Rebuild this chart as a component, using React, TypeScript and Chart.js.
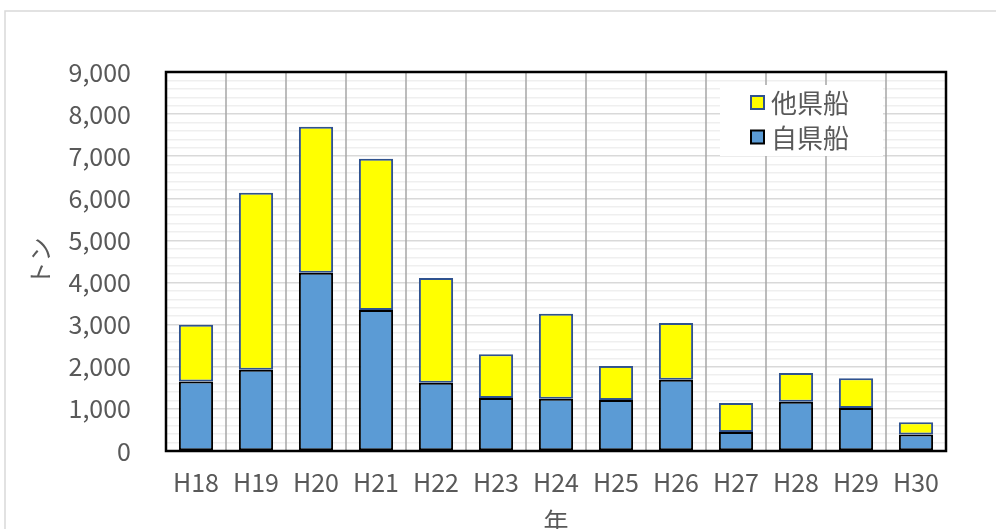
import React, { useEffect, useRef } from "react";
import { Chart, registerables } from "chart.js";

Chart.register(...registerables);

const categories = ["H18", "H19", "H20", "H21", "H22", "H23", "H24", "H25", "H26", "H27", "H28", "H29", "H30"];
const ownPrefShips = [1650, 1930, 4230, 3350, 1620, 1260, 1240, 1210, 1690, 450, 1170, 1020, 390];
const otherPrefShips = [1350, 4200, 3470, 3590, 2490, 1040, 2020, 810, 1350, 690, 680, 710, 290];
const seriesNames = ["自県船", "他県船"];
const yTitle = "トン";
const xTitle = "年";

const FONT = '"Noto Sans CJK JP", "Noto Sans", sans-serif';
const TEXT = "#595959";
const BLUE = "#5b9bd5";
const YELLOW = "#ffff00";
const BLUE_BORDER = "#000000";
const YELLOW_BORDER = "#2f528f";

export default function App() {
  const ref = useRef<HTMLCanvasElement | null>(null);

  useEffect(() => {
    document.body.style.margin = "0";
    document.body.style.overflow = "hidden";
    const canvas = ref.current!;
    const framePlugin = {
      id: "frame",
      beforeDraw(chart: any) {
        const c = chart.ctx;
        c.save();
        c.fillStyle = "#ffffff";
        c.fillRect(0, 0, chart.width, chart.height);
        c.strokeStyle = "#d9d9d9";
        c.lineWidth = 1.5;
        c.strokeRect(5, 11, chart.width + 20, chart.height + 20);
        c.restore();
      },
      beforeDatasetsDraw(chart: any) {
        const a = chart.chartArea;
        const xs = chart.scales.x;
        const c = chart.ctx;
        const n = categories.length;
        c.save();
        c.strokeStyle = "#a6a6a6";
        c.lineWidth = 1.5;
        for (let i = 1; i < n; i++) {
          const x = (xs.getPixelForValue(i - 1) + xs.getPixelForValue(i)) / 2;
          c.beginPath();
          c.moveTo(x, a.top);
          c.lineTo(x, a.bottom);
          c.stroke();
        }
        c.restore();
      },
      afterDatasetsDraw(chart: any) {
        const a = chart.chartArea;
        const c = chart.ctx;
        c.save();
        c.strokeStyle = "#000000";
        c.lineWidth = 2.5;
        c.strokeRect(a.left, a.top, a.right - a.left, a.bottom - a.top);
        c.restore();
      },
      afterDraw(chart: any) {
        const a = chart.chartArea;
        const c = chart.ctx;
        const bx = a.right - 226;
        const by = a.top + 13;
        c.save();
        c.fillStyle = "#ffffff";
        c.fillRect(bx, by, 163, 71);
        const items = [
          { label: seriesNames[1], fill: YELLOW, stroke: YELLOW_BORDER },
          { label: seriesNames[0], fill: BLUE, stroke: BLUE_BORDER },
        ];
        items.forEach((it, i) => {
          const cy = by + 17.5 + i * 34.5;
          c.fillStyle = it.fill;
          c.fillRect(bx + 31, cy - 6.5, 13, 13);
          c.strokeStyle = it.stroke;
          c.lineWidth = 2;
          c.strokeRect(bx + 31, cy - 6.5, 13, 13);
          c.fillStyle = TEXT;
          c.font = `26px ${FONT}`;
          c.textBaseline = "middle";
          c.textAlign = "left";
          c.fillText(it.label, bx + 51, cy + 1);
        });
        c.restore();
      },
    };

    const chart = new Chart(canvas, {
      type: "bar",
      data: {
        labels: categories,
        datasets: [
          {
            label: seriesNames[0],
            data: ownPrefShips,
            backgroundColor: BLUE,
            borderColor: BLUE_BORDER,
            borderWidth: 2,
            borderSkipped: false,
          },
          {
            label: seriesNames[1],
            data: otherPrefShips,
            backgroundColor: YELLOW,
            borderColor: YELLOW_BORDER,
            borderWidth: 2,
            borderSkipped: false,
          },
        ],
      },
      options: {
        responsive: false,
        animation: false,
        devicePixelRatio: 1,
        layout: { padding: { top: 72, right: 50, bottom: 0, left: 0 } },
        datasets: { bar: { categoryPercentage: 1, barPercentage: 0.57 } },
        plugins: {
          legend: { display: false },
          tooltip: { enabled: false },
        },
        scales: {
          x: {
            stacked: true,
            grid: { display: true, drawTicks: false, drawOnChartArea: false },
            border: { display: false },
            ticks: { color: TEXT, font: { family: FONT, size: 25 }, padding: 16, maxRotation: 0 },
            title: { display: true, text: xTitle, color: TEXT, font: { family: FONT, size: 25 }, padding: { top: 0, bottom: 24 } },
            afterFit: (s: any) => {
              s.height = 109;
            },
          },
          y: {
            stacked: true,
            min: 0,
            max: 9000,
            grid: {
              drawTicks: false,
              color: (ctx: any) => (ctx.tick && ctx.tick.value % 1000 === 0 ? "#d9d9d9" : "#efefef"),
              lineWidth: 1.5,
            },
            border: { display: false },
            ticks: {
              stepSize: 200,
              autoSkip: false,
              color: TEXT,
              font: { family: FONT, size: 25 },
              padding: 35,
              callback: (v: any) => (Number(v) % 1000 === 0 ? Number(v).toLocaleString("en-US") : ""),
            },
            title: { display: true, text: yTitle, color: TEXT, font: { family: FONT, size: 24 }, padding: { top: 25, bottom: 0 } },
            afterFit: (s: any) => {
              s.width = 166;
            },
          },
        },
      },
      plugins: [framePlugin],
    });
    return () => chart.destroy();
  }, []);

  return <canvas ref={ref} width={996} height={560} style={{ display: "block" }} />;
}
